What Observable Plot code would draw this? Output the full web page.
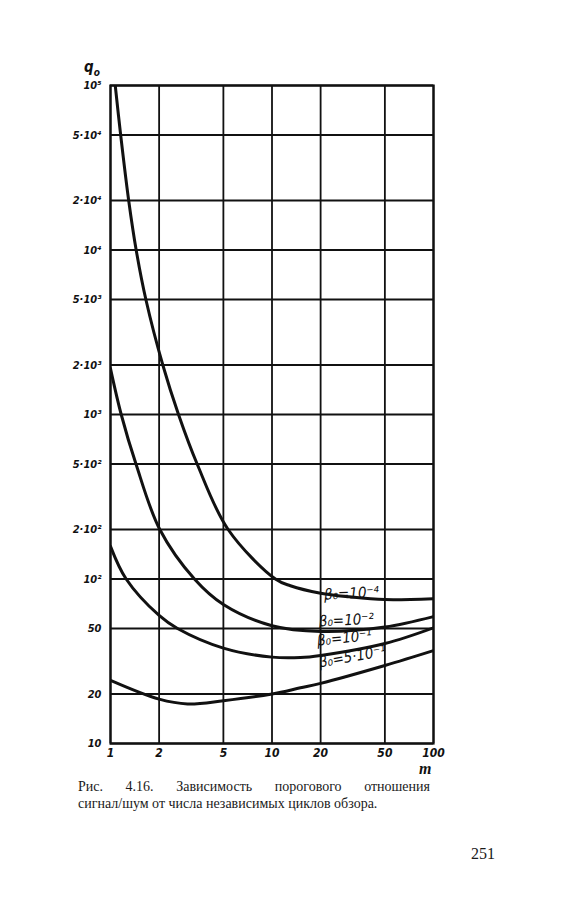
<!DOCTYPE html>
<html><head><meta charset="utf-8">
<script src="https://cdn.jsdelivr.net/npm/d3@7"></script>
<script src="https://cdn.jsdelivr.net/npm/@observablehq/plot@0.6"></script>
<style>
body{margin:0;background:#fff;width:574px;height:900px;position:relative;overflow:hidden}
#chart{position:absolute;left:0;top:0}
.cap{position:absolute;left:78px;width:352px;font-family:"Liberation Serif",serif;font-size:14px;line-height:17px;color:#1a1a1a;text-align:justify;text-align-last:justify;white-space:nowrap}
.cap2{text-align-last:left}
#qlab{position:absolute;left:84px;top:58px;font-family:"Liberation Sans Narrow","DejaVu Sans Condensed",sans-serif;font-style:italic;font-weight:bold;font-size:15px;color:#111}
#mlab{position:absolute;left:419px;top:761px;line-height:16px;font-family:"Liberation Serif",serif;font-style:italic;font-weight:bold;font-size:16px;color:#111}
#page{position:absolute;left:471px;top:845px;font-family:"Liberation Serif",serif;font-size:16px;color:#1a1a1a}
</style></head><body>
<div id="chart"></div>
<div id="qlab">q<sub style="font-size:10px">o</sub></div>
<div id="mlab">m</div>
<div class="cap" style="top:778px">Рис. 4.16. Зависимость порогового отношения</div>
<div class="cap cap2" style="top:795px">сигнал/шум от числа независимых циклов обзора.</div>
<div id="page">251</div>
<script>
const xTicks = [1, 2, 5, 10, 20, 50, 100];
const xTickLabels = ["1", "2", "5", "10", "20", "50", "100"];
const yTicks = [10, 20, 50, 100, 200, 500, 1000, 2000, 5000, 10000, 20000, 50000, 100000];
const yTickLabels = ["10", "20", "50", "10²", "2·10²", "5·10²", "10³", "2·10³", "5·10³", "10⁴", "2·10⁴", "5·10⁴", "10⁵"];

// beta0 = 1e-4
const m1 = [1.07, 1.156, 1.296, 1.442, 1.656, 2.108, 2.637, 3.44, 5.35, 10.5, 13, 20, 30, 50, 100];
const q1 = [100000, 50000, 20000, 10000, 5000, 2000, 1000, 500, 200, 100, 91, 82, 78, 75, 76];
// beta0 = 1e-2
const m2 = [1, 1.165, 1.438, 2.02, 3.31, 5, 10, 20, 50, 100];
const q2 = [1900, 1000, 500, 200, 100, 70, 52, 48, 51, 59];
// beta0 = 1e-1
const m3 = [1, 1.25, 2, 2.6, 5, 10, 15, 20, 50, 100];
const q3 = [158, 100, 60, 50, 38, 33.5, 33.3, 34.3, 40.5, 50.5];
// beta0 = 5e-1
const m4 = [1, 2, 3, 5, 10, 15, 20, 50, 100];
const q4 = [24.2, 18.6, 17.4, 18.2, 20, 21.8, 23.2, 29.8, 36.7];

const labelText = ["β₀=10⁻⁴", "β₀=10⁻²", "β₀=10⁻¹", "β₀=5·10⁻¹"];
const labelM = [21, 19.5, 19, 19.5];
const labelQ = [80, 55, 42, 31];

const series = [[m1, q1], [m2, q2], [m3, q3], [m4, q4]];
const rows = series.flatMap(([ms, qs], k) => ms.map((m, i) => ({k, m, q: qs[i]})));
const labels = labelText.map((t, i) => ({t, m: labelM[i], q: labelQ[i]}));

const numFont = "'Liberation Sans Narrow','DejaVu Sans Condensed',sans-serif";

const chart = Plot.plot({
  width: 574,
  height: 770,
  marginLeft: 110,
  marginRight: 141,
  marginTop: 85,
  marginBottom: 27,
  style: {background: "transparent", fontFamily: numFont, color: "#111"},
  x: {type: "log", domain: [1, 100], axis: null},
  y: {type: "log", domain: [10, 100000], axis: null},
  marks: [
    Plot.ruleX(xTicks, {x: d => d, stroke: "#111", strokeWidth: 1.8}),
    Plot.ruleY(yTicks, {y: d => d, stroke: "#111", strokeWidth: 1.8}),
    Plot.frame({stroke: "#111", strokeWidth: 2.2}),
    // tick labels, placed through the scales
    Plot.text(xTicks, {x: d => d, text: (d, i) => xTickLabels[i], frameAnchor: "bottom", lineAnchor: "top", dy: 5,
      fontSize: 12, fontStyle: "italic", fontWeight: "bold", fill: "#111"}),
    Plot.text(yTicks, {y: d => d, text: (d, i) => yTickLabels[i], frameAnchor: "left", textAnchor: "end", dx: -9,
      fontSize: 11, fontStyle: "italic", fontWeight: "bold", fill: "#111"}),
    Plot.line(rows, {x: "m", y: "q", z: "k", curve: "catmull-rom", stroke: "#111", strokeWidth: 3, clip: true}),
    Plot.text(labels, {x: "m", y: "q", text: "t", textAnchor: "start", fontSize: 15, fontStyle: "italic",
      fontFamily: numFont, fill: "#111", rotate: (d, i) => [-3, -3, -6, -10][i]})
  ]
});
document.getElementById("chart").append(chart);
</script>
</body></html>
